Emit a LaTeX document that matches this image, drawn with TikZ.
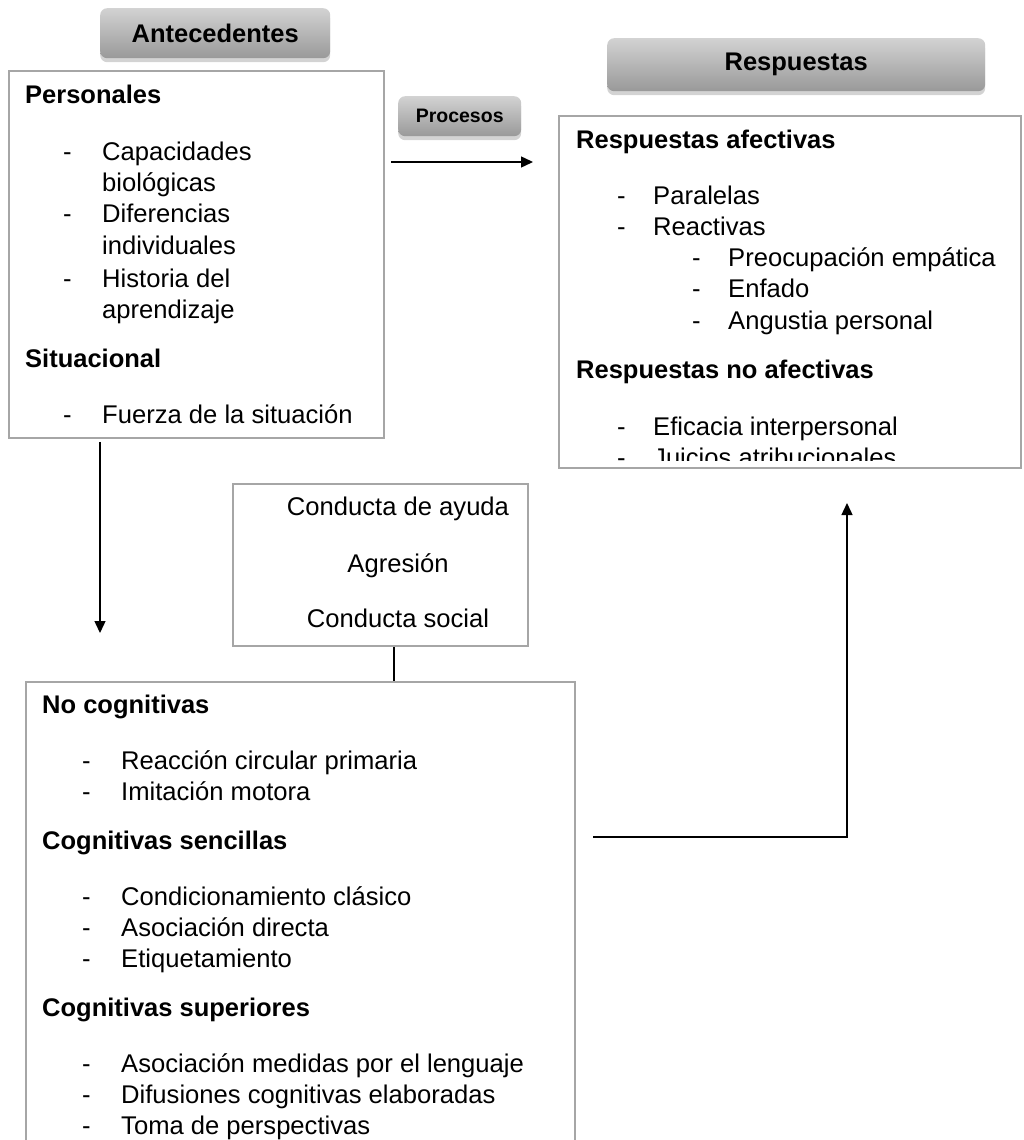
\documentclass[tikz,border=0pt]{standalone}
\usepackage{fontspec}
\setmainfont{Liberation Sans}
\usetikzlibrary{arrows.meta,positioning,shadows,calc}
\tikzset{
	panel/.style={draw=gray!70,line width=1.8pt,anchor=north west,inner sep=0pt},
	head/.style={rounded corners=7pt,top color=gray!35,bottom color=gray!80,anchor=north west,inner sep=0pt,font=\bfseries\fontsize{25.5}{30}\selectfont,drop shadow={shadow xshift=0pt,shadow yshift=-4pt,opacity=0.35}},
	tit/.style={anchor=base west,inner sep=0pt,font=\bfseries\fontsize{25.5}{30}\selectfont},
	itm/.style={anchor=base west,inner sep=0pt,font=\fontsize{25.6}{30}\selectfont},
	arr/.style={-{Triangle[length=12pt,width=11pt]},line width=1.4pt}
}
\begin{document}
\begin{tikzpicture}[x=1pt,y=-1pt]
	\useasboundingbox (0,0) rectangle (1024,1140);
	\begin{scope}
		\clip (0,0) rectangle (1024,1140);
		\node[head,minimum width=230,minimum height=50] (hant) at (100,8) {Antecedentes};
		\node[head,minimum width=378,minimum height=53] (hres) at (607,38) {Respuestas};
		\node[head,minimum width=123,minimum height=40,font=\bfseries\fontsize{19.5}{22}\selectfont] (hpro) at (398,96) {Procesos};
		\node[panel,minimum width=375,minimum height=367] (ante) at (8,70) {};
		\node[panel,minimum width=462,minimum height=352] (resp) at (558,115) {};
		\node[panel,minimum width=295,minimum height=162] (cond) at (232,483) {};
		\node[panel,minimum width=549,minimum height=480] (proc) at (25,681) {};
		% antecedentes
		\node[tit] (per) at (25,103) {Personales};
		\node[tit] (sit) at (25,367) {Situacional};
		\foreach \yy [count=\i] in {160,222,287,423}\node[itm] (da\i) at (63,\yy) {-};
		\foreach \t/\yy [count=\i] in {Capacidades/160,biológicas/191,Diferencias/222,individuales/254,Historia del/287,aprendizaje/318,Fuerza de la situación/423}
			\node[itm] (ia\i) at (102,\yy) {\t};
		% respuestas
		\begin{scope}
			\clip (558,115) rectangle (1020,460);
			\node[tit] (raf) at (576,148) {Respuestas afectivas};
			\node[tit] (rna) at (576,378) {Respuestas no afectivas};
			\foreach \yy [count=\i] in {204,235,435,466}\node[itm] (dr\i) at (617,\yy) {-};
			\foreach \t/\yy [count=\i] in {Paralelas/204,Reactivas/235,Eficacia interpersonal/435,Juicios atribucionales/466}
				\node[itm] (ir\i) at (653,\yy) {\t};
			\foreach \yy [count=\i] in {266,297,329}\node[itm] (ds\i) at (692,\yy) {-};
			\foreach \t/\yy [count=\i] in {Preocupación empática/266,Enfado/297,Angustia personal/329}
				\node[itm] (is\i) at (728,\yy) {\t};
		\end{scope}
		% conducta
		\foreach \t/\yy [count=\i] in {Conducta de ayuda/515,Agresión/572,Conducta social/627}
			\node[itm,anchor=base] (ic\i) at (398,\yy) {\t};
		% procesos
		\node[tit] (nco) at (42,713) {No cognitivas};
		\node[tit] (cse) at (42,849) {Cognitivas sencillas};
		\node[tit] (csu) at (42,1016) {Cognitivas superiores};
		\foreach \yy [count=\i] in {769,800,905,936,967,1072,1103,1134}\node[itm] (dp\i) at (82,\yy) {-};
		\foreach \t/\yy [count=\i] in {Reacción circular primaria/769,Imitación motora/800,Condicionamiento clásico/905,Asociación directa/936,Etiquetamiento/967,Asociación medidas por el lenguaje/1072,Difusiones cognitivas elaboradas/1103,Toma de perspectivas/1134}
			\node[itm] (ip\i) at (121,\yy) {\t};
		% conectores
		\coordinate (pa) at (391,162);
		\coordinate (pb) at (533,162);
		\coordinate (db) at (100,633);
		\coordinate (lk) at (394,0);
		\coordinate (ea) at (593,837);
		\coordinate (eb) at (847,503);
		\draw[arr] (pa)--(pb);
		\draw[arr] ([yshift=-3pt]ante.south -| db)--(db);
		\draw[line width=1.4pt] (cond.south -| lk)--(proc.north -| lk);
		\draw[arr] (ea) -| (eb);
	\end{scope}
\end{tikzpicture}
\end{document}
